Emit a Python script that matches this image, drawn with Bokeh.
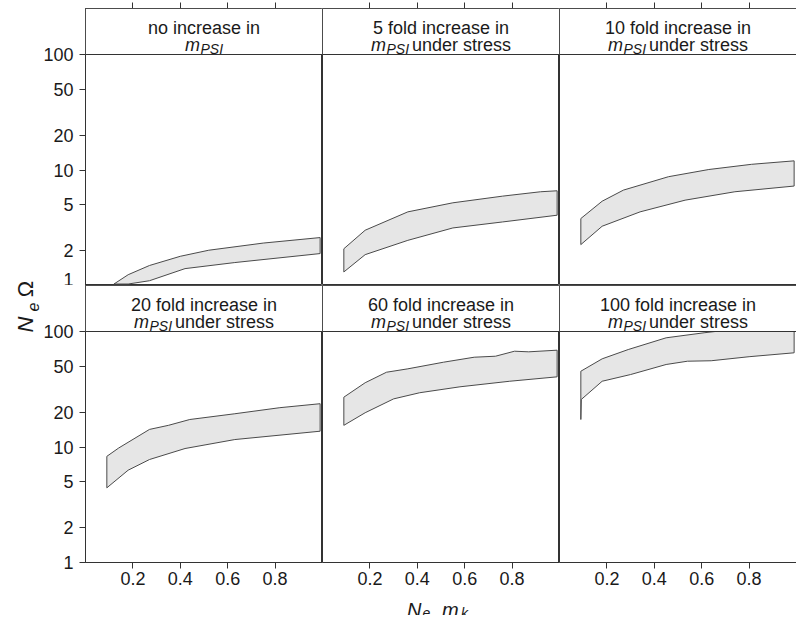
import numpy as np
from bokeh.plotting import figure
from bokeh.layouts import row, column
from bokeh.models import (FixedTicker, BasicTickFormatter, BoxAnnotation,
                          CustomLabelingPolicy, Spacer)
from bokeh.core.properties import value
from bokeh.embed import file_html
from bokeh.resources import INLINE

FONT = "Liberation Sans"
LINE = "#333333"
TXT = "#1a1a1a"

# ---------------- data ----------------
strip_line1 = ["no increase in", "5 fold increase in", "10 fold increase in",
               "20 fold increase in", "60 fold increase in", "100 fold increase in"]
strip_stress = [False, True, True, True, True, True]

x_ticks = [0.2, 0.4, 0.6, 0.8]
y_ticks = [1, 2, 5, 10, 20, 50, 100]

# panel 1: no increase
p1_upper_x = [0.12, 0.18, 0.27, 0.40, 0.52, 0.75, 0.99]
p1_upper = [1.03, 1.24, 1.49, 1.79, 2.02, 2.33, 2.60]
p1_lower_x = [0.12, 0.18, 0.27, 0.42, 0.63, 0.99]
p1_lower = [1.03, 1.03, 1.10, 1.40, 1.58, 1.89]

# panel 2: 5 fold
p2_upper_x = [0.09, 0.18, 0.36, 0.55, 0.76, 0.92, 0.99]
p2_upper = [2.08, 3.01, 4.34, 5.20, 5.94, 6.48, 6.61]
p2_lower_x = [0.09, 0.18, 0.36, 0.55, 0.76, 0.99]
p2_lower = [1.31, 1.85, 2.46, 3.15, 3.55, 4.06]

# panel 3: 10 fold
p3_upper_x = [0.09, 0.18, 0.27, 0.46, 0.63, 0.81, 0.99]
p3_upper = [3.80, 5.37, 6.70, 8.75, 10.1, 11.2, 12.0]
p3_lower_x = [0.09, 0.18, 0.34, 0.53, 0.74, 0.99]
p3_lower = [2.26, 3.26, 4.34, 5.48, 6.48, 7.26]

# panel 4: 20 fold
p4_upper_x = [0.09, 0.14, 0.27, 0.35, 0.44, 0.63, 0.82, 0.99]
p4_upper = [8.3, 9.8, 14.2, 15.4, 17.3, 19.4, 21.9, 23.7]
p4_lower_x = [0.09, 0.18, 0.27, 0.42, 0.63, 0.99]
p4_lower = [4.43, 6.30, 7.79, 9.7, 11.6, 13.7]

# panel 5: 60 fold
p5_upper_x = [0.09, 0.18, 0.27, 0.36, 0.51, 0.64, 0.73, 0.81, 0.87, 0.99]
p5_upper = [27.0, 36.0, 44.4, 47.5, 54.2, 59.9, 61.1, 67.5, 66.7, 68.9]
p5_lower_x = [0.09, 0.18, 0.30, 0.41, 0.58, 0.79, 0.99]
p5_lower = [15.4, 19.8, 26.1, 29.5, 33.2, 37.1, 40.5]

# panel 6: 100 fold
p6_upper_x = [0.09, 0.18, 0.29, 0.45, 0.61, 0.80, 0.99]
p6_upper = [45.3, 58.0, 69.8, 88.2, 97.5, 108, 116]
p6_lower_x = [0.09, 0.092, 0.18, 0.30, 0.45, 0.54, 0.64, 0.80, 0.99]
p6_lower = [17.3, 25.8, 37.1, 42.4, 51.8, 55.3, 55.8, 60.5, 65.4]

bands = [
    (p1_upper_x, p1_upper, p1_lower_x, p1_lower),
    (p2_upper_x, p2_upper, p2_lower_x, p2_lower),
    (p3_upper_x, p3_upper, p3_lower_x, p3_lower),
    (p4_upper_x, p4_upper, p4_lower_x, p4_lower),
    (p5_upper_x, p5_upper, p5_lower_x, p5_lower),
    (p6_upper_x, p6_upper, p6_lower_x, p6_lower),
]

# ---------------- layout constants ----------------
W = 237          # panel frame width
H = 277          # frame height (strip + panel)
STRIP_DEC = 46 / 115.5
YTOP = 100 * 10 ** STRIP_DEC
YL_W = 40        # y-label column width
LEFT_B = 42      # left border of left panels (frame starts at x=82)
TOP_B = 8
BOT_B = 28


def style_axis(ax):
    ax.axis_line_color = LINE
    ax.major_tick_line_color = LINE
    ax.major_tick_out = 6
    ax.major_tick_in = 0
    ax.minor_tick_line_color = None
    ax.major_label_text_font = FONT
    ax.major_label_text_font_size = "18px"
    ax.major_label_text_color = TXT


def make_panel(i):
    r, c = divmod(i, 3)
    top = r == 0
    left = c == 0
    right = c == 2
    p = figure(frame_width=W, frame_height=H,
               x_range=(0, 1), y_range=(1, YTOP), y_axis_type="log",
               x_axis_location="above" if top else "below",
               y_axis_location="left" if left else None,
               toolbar_location=None, output_backend="svg",
               min_border_left=LEFT_B if left else 0,
               min_border_right=2 if right else 0,
               min_border_top=TOP_B if top else 0,
               min_border_bottom=0 if top else BOT_B,
               outline_line_color=LINE, outline_line_width=1,
               background_fill_color="white", border_fill_color="white")
    p.grid.visible = False
    if left:
        p.yaxis.ticker = FixedTicker(ticks=y_ticks, minor_ticks=[])
        p.yaxis.formatter = BasicTickFormatter()
        style_axis(p.yaxis[0])
        p.yaxis.major_label_standoff = 6
    p.xaxis.ticker = FixedTicker(ticks=x_ticks, minor_ticks=[])
    style_axis(p.xaxis[0])
    if top:
        # tick marks only, no labels on the top axis
        p.xaxis.major_label_policy = CustomLabelingPolicy(
            code="for (const i of indices) { indices.unset(i) } return indices")
        p.xaxis.major_label_text_font_size = "0px"
        p.xaxis.major_label_standoff = 0
        p.xaxis.axis_line_color = None
    else:
        p.xaxis.major_label_standoff = 3

    ux, uy, lx, ly = bands[i]
    xs = list(ux) + list(lx)[::-1]
    ys = list(uy) + list(ly)[::-1]
    p.patch(xs, ys, fill_color="#e6e6e6", line_color="#4a4a4a", line_width=1)

    box = BoxAnnotation(bottom=100, fill_color="white", fill_alpha=1.0,
                        line_color=LINE, line_alpha=1.0, line_width=1)
    p.add_layout(box)

    # strip text
    p.text(x=[0.5], y=[100], text=[strip_line1[i]], y_offset=-26.5,
           text_align="center", text_baseline="alphabetic",
           text_font=value(FONT), text_font_size="18px", text_color=TXT,
           level="overlay")
    m_w, psi_w, gap = 15.5, 22.6, 3.0
    if strip_stress[i]:
        start = -(m_w + psi_w + gap + 99) / 2
    else:
        start = -(m_w + psi_w) / 2
    p.text(x=[0.5], y=[100], text=["m"], x_offset=start, y_offset=-9.3,
           text_align="left", text_baseline="alphabetic",
           text_font=value(FONT), text_font_style="italic",
           text_font_size="18px", text_color=TXT, level="overlay")
    p.text(x=[0.5], y=[100], text=["PSI"], x_offset=start + m_w, y_offset=-6,
           text_align="left", text_baseline="alphabetic",
           text_font=value(FONT), text_font_style="italic",
           text_font_size="14px", text_color=TXT, level="overlay")
    if strip_stress[i]:
        p.text(x=[0.5], y=[100], text=["under stress"],
               x_offset=start + m_w + psi_w + gap, y_offset=-9.3,
               text_align="left", text_baseline="alphabetic",
               text_font=value(FONT), text_font_size="18px", text_color=TXT,
               level="overlay")
    return p


panels = [make_panel(i) for i in range(6)]


# y label: three stacked slivers, each carrying one piece as a (rotated) axis label
def label_piece(txt, style, size, h, standoff):
    f = figure(frame_width=1, frame_height=h, x_range=(0, 1), y_range=(0, 1),
               toolbar_location=None, output_backend="svg",
               min_border_left=YL_W - 1, min_border_right=0,
               min_border_top=0, min_border_bottom=0,
               x_axis_location=None, y_axis_location="left",
               outline_line_color=None, background_fill_color="white",
               border_fill_color="white")
    f.grid.visible = False
    ax = f.yaxis[0]
    ax.ticker = FixedTicker(ticks=[], minor_ticks=[])
    ax.axis_line_color = None
    ax.major_tick_out = 0
    ax.major_tick_in = 0
    ax.minor_tick_line_color = None
    ax.major_tick_line_color = None
    ax.major_label_standoff = 0
    ax.axis_label = txt
    ax.axis_label_text_font = FONT
    ax.axis_label_text_font_style = style
    ax.axis_label_text_font_size = size
    ax.axis_label_text_color = TXT
    ax.axis_label_standoff = standoff
    return f


ylab = column(Spacer(width=YL_W, height=279),
              label_piece("\u03a9", "normal", "22px", 19, 2),
              label_piece("e", "italic", "16px", 17, 1),
              label_piece("N", "italic", "22px", 18, 2),
              Spacer(width=YL_W, height=229))

# x label figure
XL_W, XL_H = LEFT_B + 3 * W + 2, 25
xlab = figure(frame_width=XL_W, frame_height=XL_H, x_range=(0, XL_W), y_range=(0, XL_H),
              toolbar_location=None, output_backend="svg", min_border=0,
              x_axis_location=None, y_axis_location=None, outline_line_color=None)
xlab.grid.visible = False
cx = LEFT_B + 1.5 * W
xlab.text(x=[cx - 31, cx + 4], y=[5.6, 5.6], text=["N", "m"], text_align="left",
          text_baseline="alphabetic", text_font=value(FONT), text_font_style="italic",
          text_font_size="20px", text_color=TXT)
xlab.text(x=[cx - 15.5, cx + 23], y=[3.0, 3.0], text=["e", "k"], text_align="left",
          text_baseline="alphabetic", text_font=value(FONT), text_font_style="italic",
          text_font_size="14px", text_color=TXT)

grid = column(row(*panels[:3]), row(*panels[3:]), xlab)
layout = row(ylab, grid)

open("out.html", "w").write(file_html(layout, INLINE))
